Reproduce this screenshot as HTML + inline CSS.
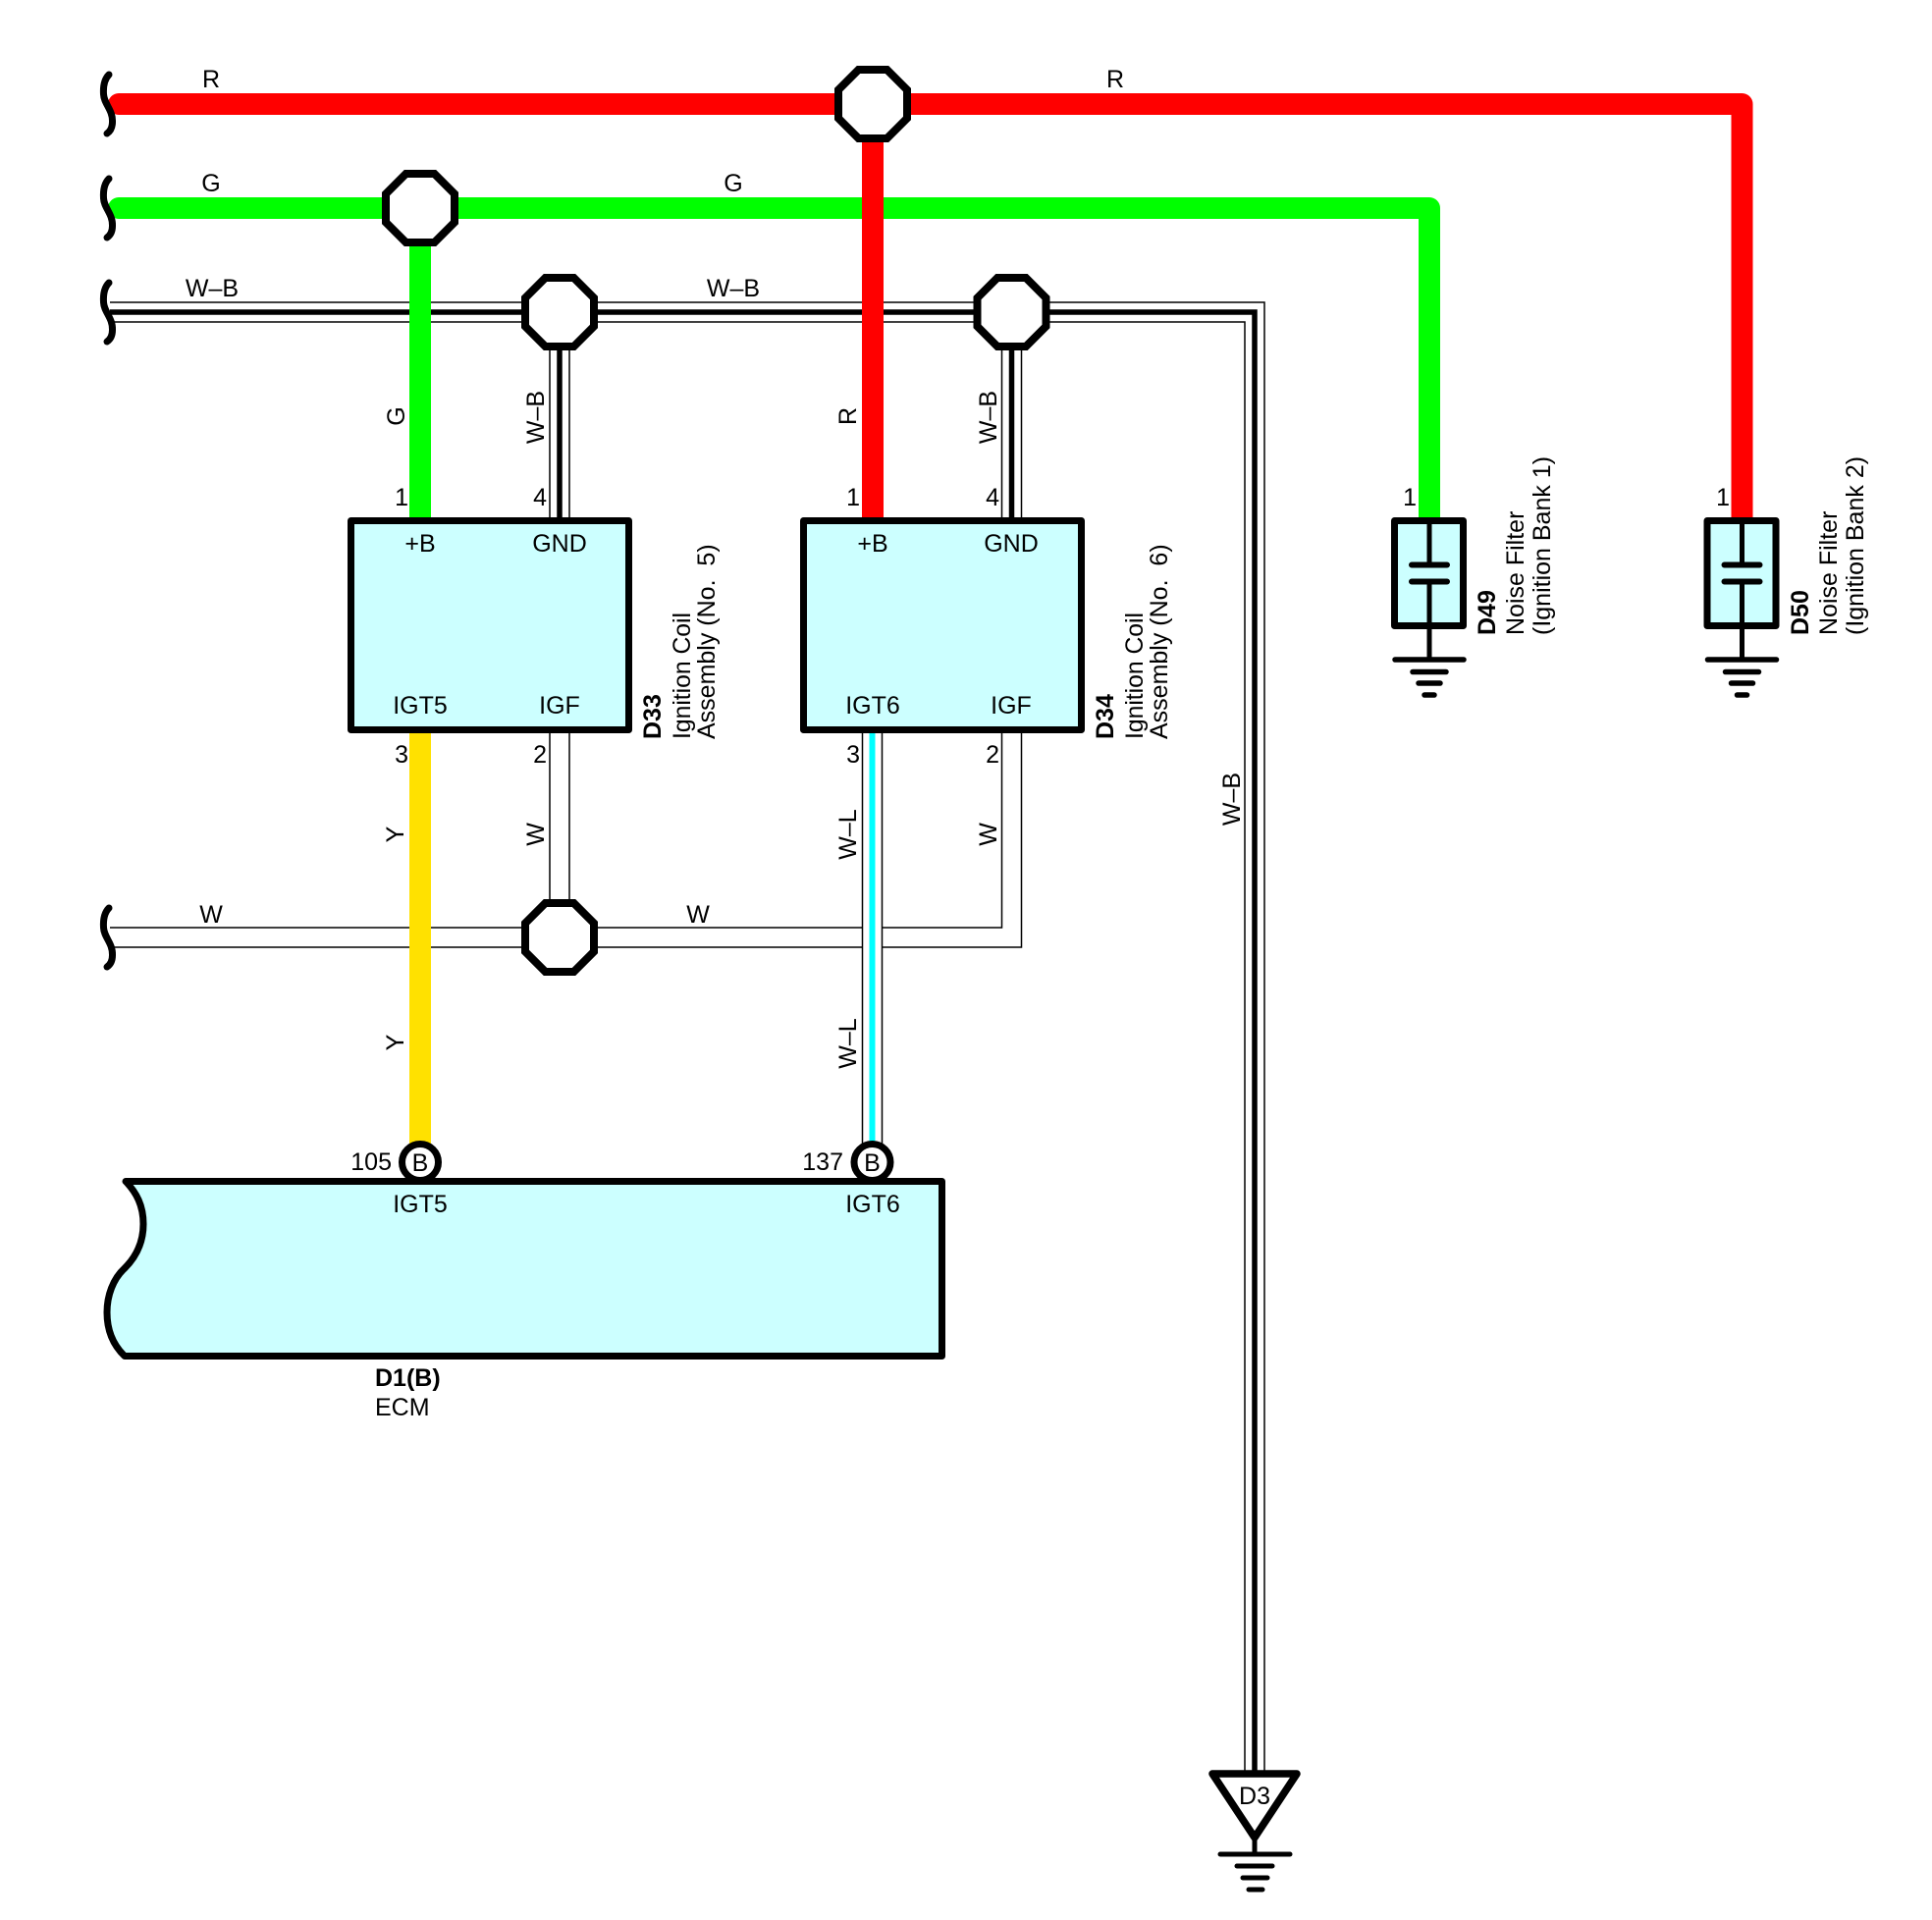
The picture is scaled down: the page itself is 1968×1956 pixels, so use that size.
<!DOCTYPE html>
<html>
<head>
<meta charset="utf-8">
<style>
html,body{margin:0;padding:0;background:#fff;}
svg{display:block;}
text{font-family:"Liberation Sans",Arial,sans-serif;font-size:25px;fill:#000;}
.m{text-anchor:middle;}
.e{text-anchor:end;}
.b{font-weight:bold;}
</style>
</head>
<body>
<svg width="1968" height="1956" viewBox="0 0 1968 1956" xmlns="http://www.w3.org/2000/svg">
<rect width="1968" height="1956" fill="#fff"/>

<!-- W wire (thin double) -->
<g fill="none" stroke-linejoin="miter">
  <path d="M112 955H570M570 955H1030.5V747M570 747V955" stroke="#000" stroke-width="21.5"/>
  <path d="M112 955H570M570 955H1030.5V747M570 747V955" stroke="#fff" stroke-width="18.5"/>
</g>

<!-- W-B wires -->
<g fill="none" stroke-linejoin="miter">
  <path d="M112 318H1278V1805M570 318V530M1030.5 318V530" stroke="#000" stroke-width="21.5"/>
  <path d="M112 318H1278V1805M570 318V530M1030.5 318V530" stroke="#fff" stroke-width="18.5"/>
  <path d="M112 318H1278V1805M570 318V530M1030.5 318V530" stroke="#000" stroke-width="5.5"/>
</g>

<!-- Green -->
<path d="M121 212H1456V530M428 212V530" fill="none" stroke="#00ff00" stroke-width="22" stroke-linejoin="round" stroke-linecap="round"/>

<!-- Red -->
<path d="M121 106H1774.500V530M889 106V530" fill="none" stroke="#ff0000" stroke-width="22" stroke-linejoin="round" stroke-linecap="round"/>

<!-- Yellow -->
<path d="M428 747V1170" fill="none" stroke="#ffe100" stroke-width="22"/>

<!-- W-L -->
<path d="M888.500 747V1170" fill="none" stroke="#000" stroke-width="21.5"/>
<path d="M888.500 747V1170" fill="none" stroke="#fff" stroke-width="18.5"/>
<path d="M888.500 747V1170" fill="none" stroke="#00ffff" stroke-width="6"/>

<!-- Octagons -->
<g fill="#fff" stroke="#000" stroke-width="8" stroke-linejoin="miter">
  <polygon transform="translate(889,106)" points="-14.500,-35 14.500,-35 35,-14.500 35,14.500 14.500,35 -14.500,35 -35,14.500 -35,-14.500"/>
  <polygon transform="translate(428,212)" points="-14.500,-35 14.500,-35 35,-14.500 35,14.500 14.500,35 -14.500,35 -35,14.500 -35,-14.500"/>
  <polygon transform="translate(570,318)" points="-14.500,-35 14.500,-35 35,-14.500 35,14.500 14.500,35 -14.500,35 -35,14.500 -35,-14.500"/>
  <polygon transform="translate(1030.500,318)" points="-14.500,-35 14.500,-35 35,-14.500 35,14.500 14.500,35 -14.500,35 -35,14.500 -35,-14.500"/>
  <polygon transform="translate(570,955)" points="-14.500,-35 14.500,-35 35,-14.500 35,14.500 14.500,35 -14.500,35 -35,14.500 -35,-14.500"/>
</g>

<!-- Curly breaks -->
<g fill="none" stroke="#000" stroke-width="7" stroke-linecap="round">
  <path transform="translate(0,106)" d="M111 -30C106 -25 105 -18 105.500 -10C106 0 115 6 114.500 18C114.500 24 112 28 109 30"/>
  <path transform="translate(0,212)" d="M111 -30C106 -25 105 -18 105.500 -10C106 0 115 6 114.500 18C114.500 24 112 28 109 30"/>
  <path transform="translate(0,318)" d="M111 -30C106 -25 105 -18 105.500 -10C106 0 115 6 114.500 18C114.500 24 112 28 109 30"/>
  <path transform="translate(0,955)" d="M111 -30C106 -25 105 -18 105.500 -10C106 0 115 6 114.500 18C114.500 24 112 28 109 30"/>
</g>

<!-- Coil boxes -->
<g fill="#ccffff" stroke="#000" stroke-width="7" stroke-linejoin="round">
  <rect x="357.500" y="530.500" width="283" height="213"/>
  <rect x="818.500" y="530.500" width="283" height="213"/>
</g>

<!-- Noise filter boxes -->
<g fill="#ccffff" stroke="#000" stroke-width="7" stroke-linejoin="round">
  <rect x="1420.500" y="530.500" width="70" height="107"/>
  <rect x="1739" y="530.500" width="70" height="107"/>
</g>
<g fill="none" stroke="#000" stroke-linecap="round">
  <g transform="translate(1456,0)">
    <path d="M0 532V576M0 593V672" stroke-width="5" stroke-linecap="butt"/>
    <path d="M-18 575.500H18M-18 592.500H18" stroke-width="6"/>
    <path d="M-35 672H35" stroke-width="5.500"/>
    <path d="M-17 684.500H17" stroke-width="5.500"/>
    <path d="M-11 696H11" stroke-width="5.500"/>
    <path d="M-5 708H5" stroke-width="5.500"/>
  </g>
  <g transform="translate(1774.500,0)">
    <path d="M0 532V576M0 593V672" stroke-width="5" stroke-linecap="butt"/>
    <path d="M-18 575.500H18M-18 592.500H18" stroke-width="6"/>
    <path d="M-35 672H35" stroke-width="5.500"/>
    <path d="M-17 684.500H17" stroke-width="5.500"/>
    <path d="M-11 696H11" stroke-width="5.500"/>
    <path d="M-5 708H5" stroke-width="5.500"/>
  </g>
</g>

<!-- ECM circles -->
<g fill="#fff" stroke="#000" stroke-width="7">
  <circle cx="428" cy="1184" r="18.500"/>
  <circle cx="888.500" cy="1184" r="18.500"/>
</g>

<!-- ECM box -->
<path d="M128 1203.500H959.500V1381.500H127C115 1370 109 1355 109 1337C109 1320 115 1303 127 1292C139 1280 146 1265 146 1247C146 1228 139 1215 128 1203.500Z" fill="#ccffff" stroke="#000" stroke-width="7" stroke-linejoin="round"/>

<!-- D3 ground -->
<g fill="none" stroke="#000" stroke-linecap="round">
  <polygon points="1235,1807 1321,1807 1278,1872" fill="#fff" stroke-width="7.500" stroke-linejoin="round"/>
  <path d="M1278 1872V1889" stroke-width="5" stroke-linecap="butt"/>
  <path d="M1243 1889H1314" stroke-width="5"/>
  <path d="M1260 1901H1296" stroke-width="5"/>
  <path d="M1266 1913H1291" stroke-width="5"/>
  <path d="M1272 1925H1286" stroke-width="5"/>
</g>

<!-- Horizontal wire labels -->
<text class="m" x="215" y="89">R</text>
<text class="m" x="1136" y="89">R</text>
<text class="m" x="215" y="195">G</text>
<text class="m" x="747" y="195">G</text>
<text class="m" x="216" y="302">W–B</text>
<text class="m" x="747" y="302">W–B</text>
<text class="m" x="215" y="940">W</text>
<text class="m" x="711" y="940">W</text>

<!-- Vertical wire labels -->
<text class="m" transform="translate(412,424) rotate(-90)">G</text>
<text class="m" transform="translate(554,425) rotate(-90)">W–B</text>
<text class="m" transform="translate(872,424) rotate(-90)">R</text>
<text class="m" transform="translate(1015,425) rotate(-90)">W–B</text>
<text class="m" transform="translate(411,850) rotate(-90)">Y</text>
<text class="m" transform="translate(411,1062) rotate(-90)">Y</text>
<text class="m" transform="translate(554,850) rotate(-90)">W</text>
<text class="m" transform="translate(1015,850) rotate(-90)">W</text>
<text class="m" transform="translate(872,850) rotate(-90)">W–L</text>
<text class="m" transform="translate(872,1063) rotate(-90)">W–L</text>
<text class="m" transform="translate(1263,814) rotate(-90)">W–B</text>

<!-- Pins -->
<text class="e" x="416" y="515">1</text>
<text class="e" x="557" y="515">4</text>
<text class="e" x="416" y="777">3</text>
<text class="e" x="557" y="777">2</text>
<text class="e" x="876" y="515">1</text>
<text class="e" x="1018" y="515">4</text>
<text class="e" x="876" y="777">3</text>
<text class="e" x="1018" y="777">2</text>
<text class="e" x="1443" y="515">1</text>
<text class="e" x="1762" y="515">1</text>

<!-- Box labels -->
<text class="m" x="428" y="562">+B</text>
<text class="m" x="570" y="562">GND</text>
<text class="m" x="428" y="727">IGT5</text>
<text class="m" x="570" y="727">IGF</text>
<text class="m" x="889" y="562">+B</text>
<text class="m" x="1030" y="562">GND</text>
<text class="m" x="889" y="727">IGT6</text>
<text class="m" x="1030" y="727">IGF</text>

<!-- Component names -->
<text class="b" transform="translate(673,753) rotate(-90)">D33</text>
<text transform="translate(703,753) rotate(-90)" textLength="129" lengthAdjust="spacingAndGlyphs">Ignition Coil</text>
<text transform="translate(728,753) rotate(-90)" xml:space="preserve">Assembly (No.  5)</text>
<text class="b" transform="translate(1134,753) rotate(-90)">D34</text>
<text transform="translate(1164,753) rotate(-90)" textLength="129" lengthAdjust="spacingAndGlyphs">Ignition Coil</text>
<text transform="translate(1189,753) rotate(-90)" xml:space="preserve">Assembly (No.  6)</text>

<text class="b" transform="translate(1523,647) rotate(-90)">D49</text>
<text transform="translate(1552,647) rotate(-90)">Noise Filter</text>
<text transform="translate(1579,647) rotate(-90)">(Ignition Bank 1)</text>
<text class="b" transform="translate(1842,647) rotate(-90)">D50</text>
<text transform="translate(1871,647) rotate(-90)">Noise Filter</text>
<text transform="translate(1898,647) rotate(-90)">(Ignition Bank 2)</text>

<!-- ECM labels -->
<text class="e" x="399" y="1192">105</text>
<text class="e" x="859" y="1192">137</text>
<text class="m" x="428" y="1193">B</text>
<text class="m" x="888.500" y="1193">B</text>
<text class="m" x="428" y="1235">IGT5</text>
<text class="m" x="889" y="1235">IGT6</text>
<text class="b" x="382" y="1412">D1(B)</text>
<text x="382" y="1442">ECM</text>
<text class="m" x="1278" y="1838">D3</text>
</svg>
</body>
</html>
